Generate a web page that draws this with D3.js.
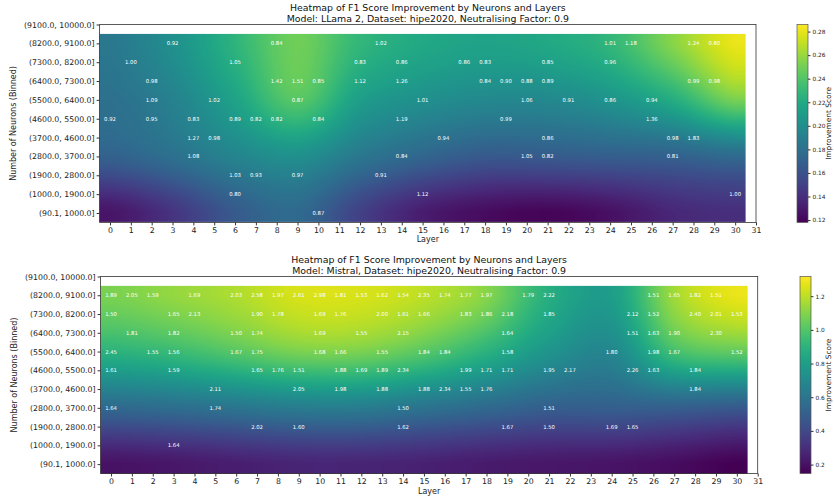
<!DOCTYPE html>
<html><head><meta charset="utf-8">
<script src="https://cdn.jsdelivr.net/npm/d3@7"></script>
<style>body{margin:0;background:#fff}svg{font-family:"DejaVu Sans",sans-serif}</style>
</head><body>
<svg id="chart" width="834" height="502"></svg>
<script>
// ---------- data ----------
const neuronBins = ["(90.1, 1000.0]","(1000.0, 1900.0]","(1900.0, 2800.0]","(2800.0, 3700.0]","(3700.0, 4600.0]",
  "(4600.0, 5500.0]","(5500.0, 6400.0]","(6400.0, 7300.0]","(7300.0, 8200.0]","(8200.0, 9100.0]","(9100.0, 10000.0]"];
const layerTicks = d3.range(0, 32);
// smooth background field: control values at these layers / bin rows
const fieldLayers = [0,3,6,9,12,15,18,21,24,27,30];
const fieldRows = [0,3,6,9];
const llamaField = [
  [0.127,0.143,0.165,0.175,0.150,0.131,0.123,0.120,0.125,0.136,0.140],
  [0.170,0.180,0.194,0.202,0.185,0.173,0.165,0.166,0.168,0.170,0.176],
  [0.180,0.192,0.215,0.242,0.212,0.202,0.197,0.197,0.205,0.222,0.252],
  [0.185,0.202,0.227,0.249,0.229,0.219,0.215,0.219,0.229,0.256,0.281]
];
const mistralField = [
  [0.200,0.217,0.241,0.264,0.264,0.252,0.229,0.217,0.206,0.182,0.147],
  [0.545,0.568,0.603,0.638,0.638,0.592,0.545,0.498,0.498,0.498,0.475],
  [0.900,0.943,1.013,1.083,1.083,1.013,0.896,0.755,0.690,0.966,1.036],
  [1.083,1.130,1.177,1.247,1.247,1.200,1.106,0.880,0.800,1.153,1.282]
];
const llamaDomain = [0.118, 0.286];
const mistralDomain = [0.147, 1.317];
const llamaTicks = [0.12,0.14,0.16,0.18,0.20,0.22,0.24,0.26,0.28];
const mistralTicks = [0.2,0.4,0.6,0.8,1.0,1.2];
// annotations: [binRow, layer, value]
const llamaLabels = [
 [9,3,0.92],[9,8,0.84],[9,13,1.02],[9,24,1.01],[9,25,1.18],[9,28,1.24],[9,29,0.80],
 [8,1,1.00],[8,6,1.05],[8,12,0.83],[8,14,0.86],[8,17,0.86],[8,18,0.83],[8,21,0.85],[8,24,0.96],
 [7,2,0.98],[7,8,1.42],[7,9,1.51],[7,10,0.85],[7,12,1.12],[7,14,1.26],[7,18,0.84],[7,19,0.90],[7,20,0.88],[7,21,0.89],[7,28,0.99],[7,29,0.98],
 [6,2,1.09],[6,5,1.02],[6,9,0.87],[6,15,1.01],[6,20,1.06],[6,22,0.91],[6,24,0.86],[6,26,0.94],
 [5,0,0.92],[5,2,0.95],[5,4,0.83],[5,6,0.89],[5,7,0.82],[5,8,0.82],[5,10,0.84],[5,14,1.19],[5,19,0.99],[5,26,1.36],
 [4,4,1.27],[4,5,0.98],[4,16,0.94],[4,21,0.86],[4,27,0.98],[4,28,1.83],
 [3,4,1.08],[3,14,0.84],[3,20,1.05],[3,21,0.82],[3,27,0.81],
 [2,6,1.03],[2,7,0.93],[2,9,0.97],[2,13,0.91],
 [1,6,0.80],[1,15,1.12],[1,30,1.00],
 [0,10,0.87]
];
const mistralLabels = [
 [9,0,1.89],[9,1,2.05],[9,2,1.59],[9,4,1.69],[9,6,2.03],[9,7,2.58],[9,8,1.97],[9,9,2.61],[9,10,2.98],[9,11,1.81],[9,12,1.53],[9,13,1.62],[9,14,1.54],[9,15,2.35],[9,16,1.74],[9,17,1.77],[9,18,1.97],[9,20,1.79],[9,21,2.22],[9,26,1.51],[9,27,1.65],[9,28,1.82],[9,29,1.51],
 [8,0,1.50],[8,3,1.65],[8,4,2.13],[8,7,1.90],[8,8,1.78],[8,10,1.69],[8,11,1.76],[8,13,2.00],[8,14,1.61],[8,15,1.66],[8,17,1.83],[8,18,1.86],[8,19,2.18],[8,21,1.85],[8,25,2.12],[8,26,1.52],[8,28,2.40],[8,29,2.01],[8,30,1.53],
 [7,1,1.81],[7,3,1.82],[7,6,1.50],[7,7,1.74],[7,10,1.69],[7,12,1.55],[7,14,2.15],[7,19,1.64],[7,25,1.51],[7,26,1.63],[7,27,1.90],[7,29,2.30],
 [6,0,2.45],[6,2,1.55],[6,3,1.56],[6,6,1.67],[6,7,1.75],[6,10,1.68],[6,11,1.66],[6,13,1.55],[6,15,1.84],[6,16,1.84],[6,19,1.58],[6,24,1.80],[6,26,1.98],[6,27,1.67],[6,30,1.52],
 [5,0,1.61],[5,3,1.59],[5,7,1.65],[5,8,1.76],[5,9,1.51],[5,11,1.88],[5,12,1.69],[5,13,1.89],[5,14,2.34],[5,17,1.99],[5,18,1.71],[5,19,1.71],[5,21,1.95],[5,22,2.17],[5,25,2.26],[5,26,1.63],[5,28,1.84],
 [4,5,2.11],[4,9,2.05],[4,11,1.98],[4,13,1.88],[4,15,1.88],[4,16,2.34],[4,17,1.55],[4,18,1.76],[4,28,1.84],
 [3,0,1.64],[3,5,1.74],[3,14,1.50],[3,21,1.51],
 [2,7,2.02],[2,9,1.60],[2,14,1.62],[2,19,1.67],[2,21,1.50],[2,24,1.69],[2,25,1.65],
 [1,3,1.64]
];

// ---------- drawing ----------
const svg = d3.select("#chart");

function catmull(vals, u){
  const n = vals.length;
  let i = Math.floor(u); if (i > n-2) i = n-2; if (i < 0) i = 0;
  const t = u - i;
  const p0 = vals[Math.max(i-1,0)], p1 = vals[i], p2 = vals[i+1], p3 = vals[Math.min(i+2,n-1)];
  return 0.5*((2*p1) + (-p0+p2)*t + (2*p0-5*p1+4*p2-p3)*t*t + (-p0+3*p1-3*p2+p3)*t*t*t);
}

function panel(cfg){
  const g = svg.append("g");
  const x = d3.scaleLinear().domain([-0.5, 31]).range([cfg.left, cfg.right]);
  const y = d3.scaleLinear().domain([-0.5, 10]).range([cfg.bottom, cfg.top]);
  const color = d3.scaleSequential(d3.interpolateViridis).domain(cfg.domain);
  const lx = d3.scaleLinear().domain([fieldLayers[0], fieldLayers[fieldLayers.length-1]]).range([0, fieldLayers.length-1]);
  const ry = d3.scaleLinear().domain([fieldRows[0], fieldRows[fieldRows.length-1]]).range([0, fieldRows.length-1]);

  // raster image of the field
  const x0 = x(-0.5), x1 = x(30.5), y0 = y(9.5), y1 = y(-0.5);
  const W = Math.round(x1 - x0), H = Math.round(y1 - y0);
  const cv = document.createElement("canvas"); cv.width = W; cv.height = H;
  const ctx = cv.getContext("2d");
  const img = ctx.createImageData(W, H);
  for (let py = 0; py < H; py++){
    const r = Math.max(0, Math.min(9, y.invert(y0 + py + 0.5)));
    const v = ry(r);
    for (let px = 0; px < W; px++){
      const l = Math.max(0, Math.min(30, x.invert(x0 + px + 0.5)));
      const u = lx(l);
      const col = cfg.field.map(row => catmull(row, u));
      const val = catmull(col, v);
      const c = d3.rgb(color(val));
      const k = (py*W + px)*4;
      img.data[k] = c.r; img.data[k+1] = c.g; img.data[k+2] = c.b; img.data[k+3] = 255;
    }
  }
  ctx.putImageData(img, 0, 0);
  g.append("image").attr("x", x0).attr("y", y0).attr("width", W).attr("height", H)
    .attr("preserveAspectRatio","none").attr("href", cv.toDataURL());

  // annotations
  g.selectAll("text.ann").data(cfg.labels).join("text").attr("class","ann")
    .attr("x", d => x(d[1])).attr("y", d => y(d[0]))
    .attr("text-anchor","middle").attr("dominant-baseline","central")
    .attr("fill","#fff").attr("font-size", 5.3).text(d => d[2].toFixed(2));

  // axes frame
  g.append("rect").attr("x", cfg.left).attr("y", cfg.top).attr("width", cfg.right-cfg.left).attr("height", cfg.bottom-cfg.top)
    .attr("fill","none").attr("stroke","#333").attr("stroke-width",0.8);

  const xa = g.append("g").attr("transform",`translate(0,${cfg.bottom})`)
    .call(d3.axisBottom(x).tickValues(layerTicks).tickFormat(d3.format("d")).tickSize(3).tickPadding(2));
  xa.select(".domain").remove();
  xa.selectAll("text").attr("font-size", 7.8).attr("fill","#222").attr("font-family","DejaVu Sans");
  xa.selectAll("line").attr("stroke","#333");

  const ya = g.append("g").attr("transform",`translate(${cfg.left},0)`)
    .call(d3.axisLeft(y).tickValues(d3.range(0, 11)).tickFormat(i => neuronBins[i]).tickSize(3).tickPadding(2));
  ya.select(".domain").remove();
  ya.selectAll("text").attr("font-size", 7.8).attr("fill","#222").attr("font-family","DejaVu Sans");
  ya.selectAll("line").attr("stroke","#333");

  g.append("text").attr("x", (cfg.left+cfg.right)/2).attr("y", cfg.bottom + 20).attr("text-anchor","middle")
    .attr("font-size", 8).attr("fill","#222").text("Layer");
  g.append("text").attr("transform",`translate(${cfg.left-84},${(cfg.top+cfg.bottom)/2}) rotate(-90)`)
    .attr("text-anchor","middle").attr("font-size", 8).attr("fill","#222").text("Number of Neurons (Binned)");

  // titles
  const cx = (cfg.left+cfg.right)/2;
  g.append("text").attr("x", cx).attr("y", cfg.top - 13.5).attr("text-anchor","middle").attr("font-size", 9.4).attr("fill","#111").text(cfg.title1);
  g.append("text").attr("x", cx).attr("y", cfg.top - 3).attr("text-anchor","middle").attr("font-size", 9.4).attr("fill","#111").text(cfg.title2);

  // colorbar
  const cb = d3.scaleLinear().domain(cfg.domain).range([cfg.bottom, cfg.top]);
  const gid = "grad" + cfg.id;
  const grad = svg.append("defs").append("linearGradient").attr("id", gid).attr("x1",0).attr("y1",1).attr("x2",0).attr("y2",0);
  d3.range(0, 1.0001, 0.05).forEach(t => grad.append("stop").attr("offset", t).attr("stop-color", d3.interpolateViridis(t)));
  g.append("rect").attr("x", cfg.cbx).attr("y", cfg.top).attr("width", 11).attr("height", cfg.bottom-cfg.top)
    .attr("fill",`url(#${gid})`).attr("stroke","#555").attr("stroke-width",0.7);
  const ca = g.append("g").attr("transform",`translate(${cfg.cbx+11},0)`)
    .call(d3.axisRight(cb).tickValues(cfg.ticks).tickFormat(cfg.tfmt).tickSize(2.5).tickPadding(2));
  ca.select(".domain").remove();
  ca.selectAll("text").attr("font-size", 5.8).attr("fill","#222").attr("font-family","DejaVu Sans");
  ca.selectAll("line").attr("stroke","#333");
  g.append("text").attr("transform",`translate(831,${(cfg.top+cfg.bottom)/2}) rotate(-90)`)
    .attr("text-anchor","middle").attr("font-size", 7.4).attr("fill","#222").text("Improvement Score");
}

panel({id:"a", left:99.6, right:756, top:24.5, bottom:222.4, field:llamaField, domain:llamaDomain,
  labels:llamaLabels, ticks:llamaTicks, tfmt:d3.format(".2f"), cbx:797,
  title1:"Heatmap of F1 Score Improvement by Neurons and Layers",
  title2:"Model: LLama 2, Dataset: hipe2020, Neutralising Factor: 0.9"});
panel({id:"b", left:100.6, right:757.7, top:276.5, bottom:473.5, field:mistralField, domain:mistralDomain,
  labels:mistralLabels, ticks:mistralTicks, tfmt:d3.format(".1f"), cbx:800,
  title1:"Heatmap of F1 Score Improvement by Neurons and Layers",
  title2:"Model: Mistral, Dataset: hipe2020, Neutralising Factor: 0.9"});
</script>
</body></html>
